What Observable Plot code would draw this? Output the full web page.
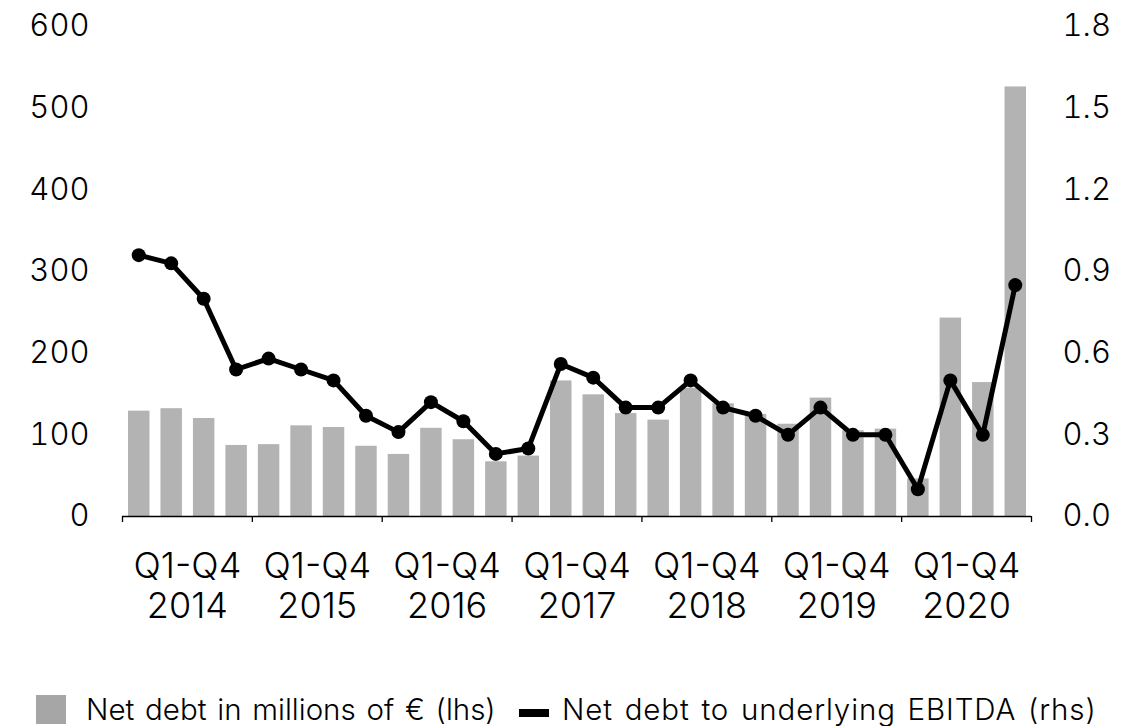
<!DOCTYPE html>
<html>
<head>
<meta charset="utf-8">
<script src="https://cdn.jsdelivr.net/npm/d3@7"></script>
<script src="https://cdn.jsdelivr.net/npm/@observablehq/plot@0.6"></script>
<style>
  html, body { margin: 0; padding: 0; background: #fff; }
  body { position: relative; width: 1133px; height: 726px; overflow: hidden; font-family: Inter, Lato, sans-serif; font-weight: 300; color: #000; }
  #legend { position: absolute; left: 0; top: 0; width: 1133px; height: 726px; pointer-events: none; }
  .lt { position: absolute; top: 694px; font-size: 29.5px; line-height: 30px; white-space: nowrap; }
  .sw { position: absolute; }
  svg text { font-weight: 300; }
</style>
</head>
<body>
<div id="chart"></div>
<div id="legend">
  <span class="sw" style="left:36px;top:695px;width:30px;height:29px;background:#a6a6a6;"></span>
  <span class="lt" style="left:86px;letter-spacing:0px;word-spacing:2.5px;">Net debt in millions of € (lhs)</span>
  <span class="sw" style="left:519px;top:709px;width:30px;height:8px;background:#000;"></span>
  <span class="lt" style="left:562px;letter-spacing:0.9px;word-spacing:2.5px;">Net debt to underlying EBITDA (rhs)</span>
</div>
<script>
const years = ["2014", "2015", "2016", "2017", "2018", "2019", "2020"];
const quarters = ["Q1", "Q2", "Q3", "Q4"];
const netDebt = [129, 132, 120, 87, 88, 111, 109, 86, 76, 108, 94, 67, 74, 166, 149, 126, 118, 157, 138, 125, 113, 145, 105, 107, 46, 243, 164, 526];
const ratio = [0.96, 0.93, 0.80, 0.54, 0.58, 0.54, 0.50, 0.37, 0.31, 0.42, 0.35, 0.23, 0.25, 0.56, 0.51, 0.40, 0.40, 0.50, 0.40, 0.37, 0.30, 0.40, 0.30, 0.30, 0.10, 0.50, 0.30, 0.85];
const leftTicks = [0, 100, 200, 300, 400, 500, 600];
const rightMax = 1.8;
const leftMax = 600;

const data = netDebt.map((v, i) => ({
  i,
  year: years[Math.floor(i / 4)],
  quarter: quarters[i % 4],
  debt: v,
  ratio: ratio[i]
}));
const k = leftMax / rightMax;
const boundaries = d3.range(0, years.length + 1).map(j => j * 4);
const yearLabels = years.map((y, j) => ({x: j * 4 + 2, label: "Q1-Q4\n" + y}));

const chart = Plot.plot({
  width: 1133,
  height: 650,
  marginTop: 26,
  marginBottom: 134,
  marginLeft: 122,
  marginRight: 102,
  style: {fontFamily: "Inter, Lato, sans-serif", color: "#000", background: "#fff"},
  x: {type: "linear", domain: [0, netDebt.length], label: null},
  y: {domain: [0, leftMax], label: null},
  marks: [
    Plot.rectY(data, {x1: d => d.i, x2: d => d.i + 1, y: "debt", fill: "#b3b3b3", insetLeft: 6, insetRight: 5}),
    Plot.ruleY([0], {stroke: "#000", strokeWidth: 1.6}),
    Plot.axisX({ticks: boundaries, tickSize: 6, tickFormat: () => "", strokeWidth: 1.3, label: null}),
    Plot.text(yearLabels, {x: "x", text: "label", frameAnchor: "bottom", lineAnchor: "top", dy: 33, fontSize: 36, lineHeight: 1.11, fill: "#000"}),
    Plot.axisY({anchor: "left", ticks: leftTicks, tickSize: 0, tickPadding: 33, fontSize: 31, label: null, tickFormat: d => String(d)}),
    Plot.axisY({anchor: "right", ticks: leftTicks, tickSize: 0, tickPadding: 31, fontSize: 31, label: null, tickFormat: d => (d / k).toFixed(1)}),
    Plot.line(data, {x: d => d.i + 0.5, y: d => d.ratio * k, stroke: "#000", strokeWidth: 5, strokeLinejoin: "round"}),
    Plot.dot(data, {x: d => d.i + 0.5, y: d => d.ratio * k, r: 7, fill: "#000", stroke: "none"})
  ]
});
document.getElementById("chart").appendChild(chart);
</script>
</body>
</html>
